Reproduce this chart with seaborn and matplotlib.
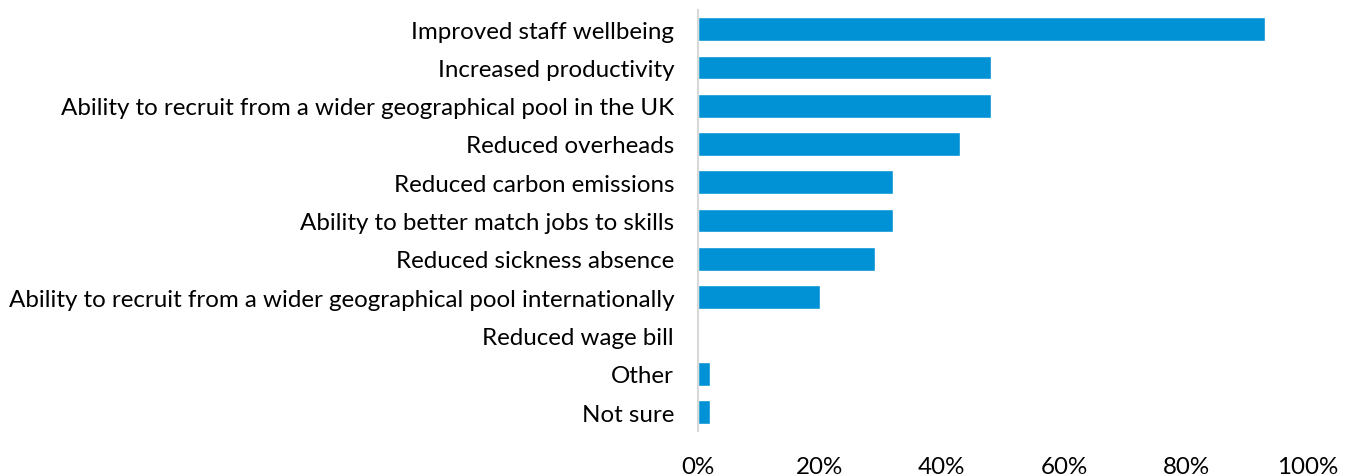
import matplotlib
matplotlib.use("Agg")
import matplotlib.pyplot as plt
import seaborn as sns
import pandas as pd
from matplotlib.ticker import PercentFormatter

benefits = [
    "Improved staff wellbeing",
    "Increased productivity",
    "Ability to recruit from a wider geographical pool in the UK",
    "Reduced overheads",
    "Reduced carbon emissions",
    "Ability to better match jobs to skills",
    "Reduced sickness absence",
    "Ability to recruit from a wider geographical pool internationally",
    "Reduced wage bill",
    "Other",
    "Not sure",
]
share_pct = [93, 48, 48, 43, 32, 32, 29, 20, 0, 2, 2]
x_ticks = [0, 20, 40, 60, 80, 100]

df = pd.DataFrame({"benefit": benefits, "share": share_pct})

sns.set_theme(style="white")
plt.rcParams["font.family"] = ["Lato", "DejaVu Sans"]

fig = plt.figure(figsize=(13.52, 4.77), dpi=100)
ax = fig.add_axes([0.516, 0.094, 0.4515, 0.883])

sns.barplot(data=df, x="share", y="benefit", color="#0092D4", width=0.62,
            saturation=1, ax=ax, orient="h")

ax.set_xlim(0, 100)
ax.set_ylim(10.5, -0.5)
ax.set_xticks(x_ticks)
ax.xaxis.set_major_formatter(PercentFormatter(decimals=0))
ax.set_xlabel("")
ax.set_ylabel("")

for side in ["top", "right", "bottom"]:
    ax.spines[side].set_visible(False)
ax.spines["left"].set_color("#D9D9D9")
ax.spines["left"].set_linewidth(1.5)

ax.tick_params(axis="y", length=0, pad=17, labelsize=17.4, labelcolor="#000000")
ax.tick_params(axis="x", length=0, pad=18, labelsize=17.4, labelcolor="#000000")

fig.savefig("out.png", dpi=100)
